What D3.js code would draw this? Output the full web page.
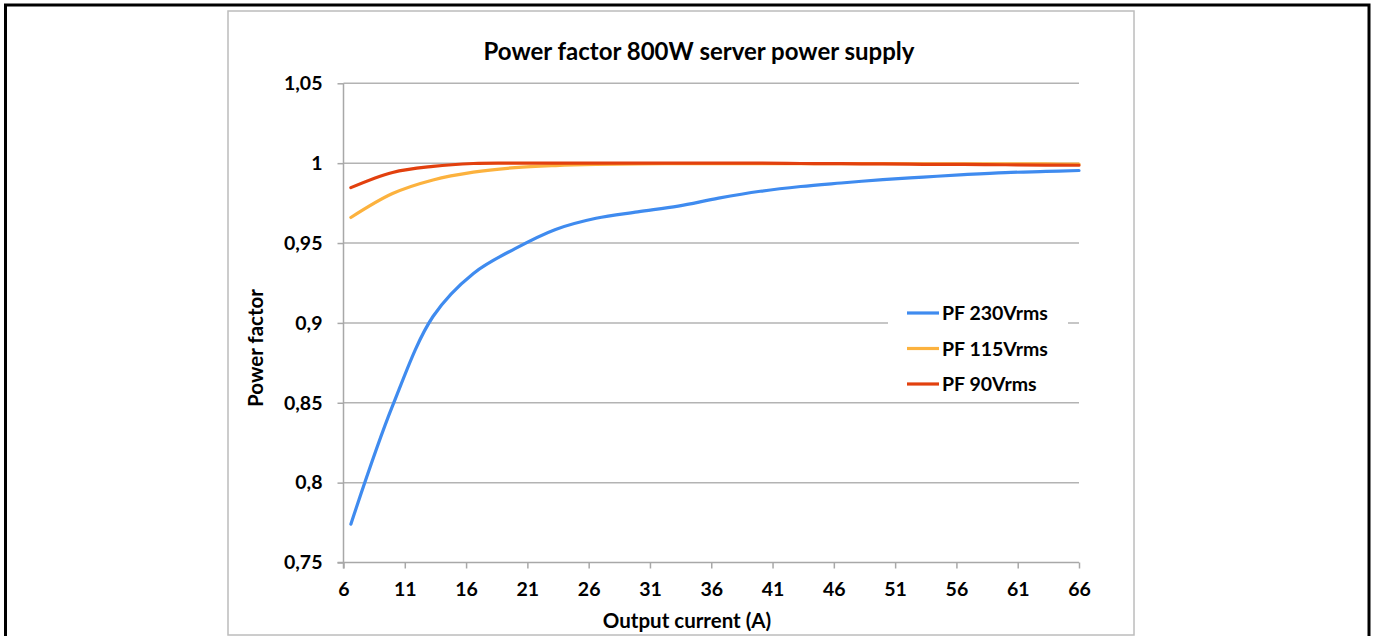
<!DOCTYPE html>
<html>
<head>
<meta charset="utf-8">
<script src="https://cdn.jsdelivr.net/npm/d3@7"></script>
<style>
  html, body { margin: 0; padding: 0; background: #fff; }
  svg { display: block; }
  text { font-family: Lato, "Open Sans", sans-serif; font-weight: bold; fill: #000; }
</style>
</head>
<body>
<svg id="chart" width="1375" height="636"></svg>
<script>
// Output current (A) at each measurement point
const current = [6.6, 10, 13.3, 16.6, 20, 23.3, 26.6, 30, 33.3, 36.6, 40, 43.3, 46.6, 50, 53.3, 56.6, 60, 63.3, 66];
// Power factor per input voltage
const pf230 = [0.774, 0.848, 0.904, 0.931, 0.9465, 0.9585, 0.9655, 0.9695, 0.9731, 0.9781, 0.9824, 0.9854, 0.9876, 0.9897, 0.9913, 0.9928, 0.9941, 0.9948, 0.9954];
const pf115 = [0.966, 0.981, 0.9895, 0.9944, 0.9972, 0.9985, 0.9992, 0.9995, 0.9997, 0.9997, 0.9997, 0.9997, 0.9997, 0.9997, 0.9996, 0.9996, 0.9995, 0.9995, 0.9994];
const pf90  = [0.9847, 0.9942, 0.998, 0.9998, 1.0, 1.0, 1.0, 1.0, 1.0, 1.0, 1.0, 0.9998, 0.9997, 0.9995, 0.9993, 0.9992, 0.999, 0.9988, 0.9987];
const seriesNames = ["PF 230Vrms", "PF 115Vrms", "PF 90Vrms"];
const seriesColors = ["#3f8bef", "#fcb23e", "#e2400e"];
const xTicks = [6, 11, 16, 21, 26, 31, 36, 41, 46, 51, 56, 61, 66];
const yTicks = [0.75, 0.8, 0.85, 0.9, 0.95, 1, 1.05];

const svg = d3.select("#chart");

// outer page frame
svg.append("rect")
  .attr("x", 5.5).attr("y", 5).attr("width", 1363.5).attr("height", 640)
  .attr("fill", "none").attr("stroke", "#000").attr("stroke-width", 3);

// chart area frame
svg.append("rect")
  .attr("x", 228).attr("y", 11).attr("width", 906).attr("height", 624)
  .attr("fill", "#fff").attr("stroke", "#bcbcbc").attr("stroke-width", 1.5);

const x = d3.scaleLinear().domain([6, 66]).range([343.5, 1079]);
const y = d3.scaleLinear().domain([0.75, 1.05]).range([562.5, 83.3]);

// horizontal gridlines
svg.append("g").selectAll("line")
  .data(yTicks.filter(d => d > 0.75))
  .join("line")
  .attr("x1", x(6)).attr("x2", x(66))
  .attr("y1", d => y(d)).attr("y2", d => y(d))
  .attr("stroke", "#b3b3b3").attr("stroke-width", 1.5);

const tickFont = sel => sel.style("font-size", "19.5px")
  .style("font-family", "Lato, sans-serif").style("font-weight", "bold");

// y axis
const fmt = d => String(d).replace(".", ",");
const yAxis = svg.append("g")
  .attr("transform", `translate(${x(6)},0)`)
  .call(d3.axisLeft(y).tickValues(yTicks).tickFormat(fmt).tickSize(6).tickPadding(15));
yAxis.select(".domain").attr("stroke", "#a8a8a8").attr("stroke-width", 1.5)
  .attr("d", `M0,${y(1.05)}V${y(0.75) + 6}`);
yAxis.selectAll(".tick line").attr("stroke", "#a8a8a8").attr("stroke-width", 1.5);
yAxis.selectAll(".tick text").call(tickFont);

// x axis
const xAxis = svg.append("g")
  .attr("transform", `translate(0,${y(0.75)})`)
  .call(d3.axisBottom(x).tickValues(xTicks).tickFormat(d3.format("d")).tickSize(6).tickPadding(14));
xAxis.select(".domain").attr("stroke", "#a8a8a8").attr("stroke-width", 1.5)
  .attr("d", `M${x(6) - 6},0H${x(66)}`);
xAxis.selectAll(".tick line").attr("stroke", "#a8a8a8").attr("stroke-width", 1.5);
xAxis.selectAll(".tick text").call(tickFont);

// series lines
const line = d3.line()
  .x(d => x(d[0])).y(d => y(d[1]))
  .curve(d3.curveCatmullRom.alpha(0.5));
[pf230, pf115, pf90].forEach((vals, i) => {
  svg.append("path")
    .datum(current.map((c, j) => [c, vals[j]]))
    .attr("d", line)
    .attr("fill", "none")
    .attr("stroke", seriesColors[i])
    .attr("stroke-width", 3.2)
    .attr("stroke-linecap", "round");
});

// legend
const legend = svg.append("g");
legend.append("rect")
  .attr("x", 888).attr("y", 296).attr("width", 180).attr("height", 106)
  .attr("fill", "#fff");
seriesNames.forEach((name, i) => {
  const yy = 313 + i * 35.5;
  legend.append("line")
    .attr("x1", 907).attr("x2", 939).attr("y1", yy).attr("y2", yy)
    .attr("stroke", seriesColors[i]).attr("stroke-width", 3.2);
  legend.append("text")
    .attr("x", 942).attr("y", yy + 7)
    .style("font-size", "19.5px")
    .text(name);
});

// title
svg.append("text")
  .attr("x", 699).attr("y", 60)
  .attr("text-anchor", "middle")
  .style("font-size", "24px")
  .text("Power factor 800W server power supply");

// axis titles
svg.append("text")
  .attr("x", 687).attr("y", 628)
  .attr("text-anchor", "middle")
  .style("font-size", "20.5px")
  .text("Output current (A)");

svg.append("text")
  .attr("transform", "translate(263,348) rotate(-90)")
  .attr("text-anchor", "middle")
  .style("font-size", "20.5px")
  .text("Power factor");
</script>
</body>
</html>
